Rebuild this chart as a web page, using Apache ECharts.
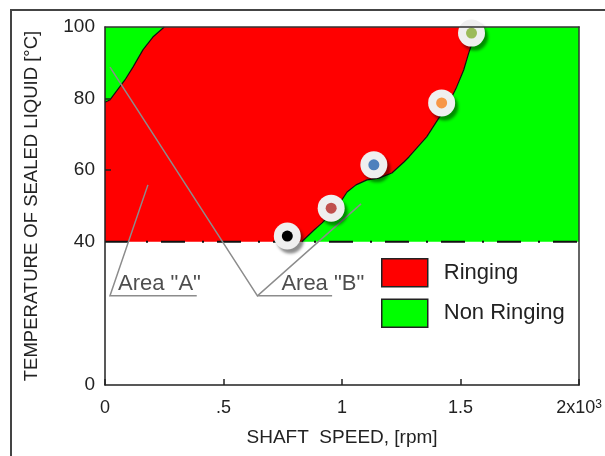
<!DOCTYPE html>
<html>
<head>
<meta charset="utf-8">
<script src="https://cdn.jsdelivr.net/npm/echarts@6/dist/echarts.min.js"></script>
<style>
html, body { margin: 0; padding: 0; background: #fff; }
#chart { width: 605px; height: 456px; }
</style>
</head>
<body>
<div id="chart"></div>
<script>
// shaft speed in thousands of rpm, temperature in °C
var xTickLabels = ['0', '.5', '1', '1.5', '2x10{sup|3}'];
var yTickValues = [0, 40, 60, 80, 100];
var floorLine = [[0, 40], [2, 40]];
var leftBoundary = [[0, 79], [0.02, 79.6], [0.084, 85.2], [0.118, 88.8], [0.16, 93.6], [0.202, 97.2], [0.25, 100]];
var rightBoundary = [[0.83, 40], [0.882, 43.3], [0.916, 45.3], [0.979, 49.7], [1.021, 53.9], [1.059, 55.9],
    [1.105, 57.3], [1.155, 57.8], [1.21, 59.2], [1.261, 62.3], [1.282, 63.7], [1.357, 69.3], [1.395, 73.2],
    [1.45, 78.8], [1.483, 83.2], [1.513, 88], [1.534, 92.7], [1.546, 95], [1.555, 100]];
var measured = [[0.769, 41.6], [0.954, 49.4], [1.134, 61.5], [1.42, 78.8], [1.546, 98.3]];
var leaderA = [[0.181, 55.9], [0.021, 24.9], [0.387, 24.9]];
var leaderB = [[0.021, 88.8], [0.643, 24.9], [1.08, 50.6]];
var underlineB = [[0.643, 24.9], [0.958, 24.9]];
var areaNames = ['Area "A"', 'Area "B"'];
var areaLabelPos = [[0.055, 24.9], [0.744, 24.9]];

var dotColors = ['#000000', '#c0504d', '#4f81bd', '#f79646', '#9bbb59'];
var font = 'Liberation Sans, Arial, sans-serif';

var redRegion = [[0, 40]].concat(leftBoundary, rightBoundary.slice().reverse());
var greenLeft = leftBoundary.concat([[0, 100]]);
var greenRight = rightBoundary.concat([[2, 100], [2, 40]]);

function region(name, color, pts) {
    return {
        type: 'custom', name: name, silent: true, z: 1,
        itemStyle: { color: color },
        data: [0],
        renderItem: function (params, api) {
            return {
                type: 'polygon',
                shape: { points: pts.map(function (p) { return api.coord(p); }) },
                style: { fill: color }
            };
        }
    };
}

function plainLine(pts, color, width, type) {
    return {
        type: 'line', data: pts, symbol: 'none', silent: true, z: 3,
        lineStyle: { color: color, width: width, type: type || 'solid' }
    };
}

var myChart = echarts.init(document.getElementById('chart'));
var option = {
    animation: false,
    textStyle: { fontFamily: font },
    grid: { left: 105, top: 27, right: 24, bottom: 71, show: false },
    legend: {
        orient: 'vertical', left: 376, top: 253,
        itemWidth: 46, itemHeight: 28, itemGap: 11,
        icon: 'rect',
        itemStyle: { borderColor: '#222', borderWidth: 1.5 },
        textStyle: { fontSize: 22, color: '#222', padding: [0, 0, 0, 11] },
        data: ['Ringing', 'Non Ringing']
    },
    xAxis: [{
        type: 'value', min: 0, max: 2, interval: 0.5, z: 10,
        name: 'SHAFT  SPEED, [rpm]', nameLocation: 'middle', nameGap: 43,
        nameTextStyle: { fontSize: 19, color: '#222' },
        axisLine: { lineStyle: { color: '#222', width: 1.5 } },
        axisTick: { inside: true, length: 6, lineStyle: { color: '#222', width: 1.5 } },
        splitLine: { show: false },
        axisLabel: {
            fontSize: 18, color: '#222', margin: 14,
            formatter: function (v) { return xTickLabels[Math.round(v * 2)]; },
            rich: { sup: { fontSize: 12, verticalAlign: 'top', padding: [0, 0, 6, 0] } }
        }
    }, {
        type: 'value', min: 0, max: 2, position: 'top', z: 10,
        axisLine: { onZero: false, lineStyle: { color: '#333', width: 1.5 } },
        axisTick: { show: false }, axisLabel: { show: false }, splitLine: { show: false }
    }],
    yAxis: [{
        type: 'value', min: 0, max: 100, interval: 20, z: 10,
        name: 'TEMPERATURE OF SEALED LIQUID [°C]', nameLocation: 'middle', nameGap: 64,
        nameTextStyle: { fontSize: 18.5, color: '#222' },
        axisLine: { show: true, lineStyle: { color: '#222', width: 1.5 } },
        axisTick: { inside: true, length: 6, customValues: [60, 80], lineStyle: { color: '#222', width: 1.5 } },
        splitLine: { show: false },
        axisLabel: { fontSize: 19, color: '#222', margin: 10, customValues: yTickValues }
    }, {
        type: 'value', min: 0, max: 100, position: 'right', z: 10,
        axisLine: { show: true, onZero: false, lineStyle: { color: '#333', width: 1.5 } },
        axisTick: { show: false }, axisLabel: { show: false }, splitLine: { show: false }
    }],
    graphic: [{
        type: 'polyline', z: 0, silent: true,
        shape: { points: [[11, 460], [11, 10], [610, 10]] },
        style: { stroke: '#444', lineWidth: 2, fill: null }
    }],
    series: [
        region('Ringing', '#ff0000', redRegion),
        region('Non Ringing', '#00ff00', greenLeft),
        region('Non Ringing', '#00ff00', greenRight),
        plainLine(leftBoundary, '#111', 1.2),
        plainLine(rightBoundary, '#111', 1.2),
        plainLine(floorLine, '#111', 2, [24, 17, 2, 13]),
        {
            type: 'lines', coordinateSystem: 'cartesian2d', polyline: true, silent: true, z: 4,
            lineStyle: { color: '#8c8c8c', width: 1.5, opacity: 1 },
            data: [{ coords: leaderA }, { coords: leaderB }, { coords: underlineB }]
        },
        {
            type: 'scatter', silent: true, z: 4, symbolSize: 0,
            data: areaLabelPos.map(function (p, i) { return { name: areaNames[i], value: p }; }),
            label: {
                show: true, position: [0, 0], align: 'left', verticalAlign: 'bottom',
                fontSize: 22, lineHeight: 24, color: '#222',
                formatter: function (p) { return p.name; }
            }
        },
        {
            type: 'scatter', silent: true, z: 5, data: measured, symbolSize: 27,
            itemStyle: {
                color: '#efefef', opacity: 1,
                shadowColor: 'rgba(0,0,0,0.45)', shadowBlur: 3, shadowOffsetX: 3, shadowOffsetY: 4
            }
        },
        {
            type: 'scatter', silent: true, z: 6, data: measured, symbolSize: 11,
            itemStyle: { opacity: 1, color: function (p) { return dotColors[p.dataIndex]; } }
        }
    ]
};
myChart.setOption(option);
</script>
</body>
</html>
